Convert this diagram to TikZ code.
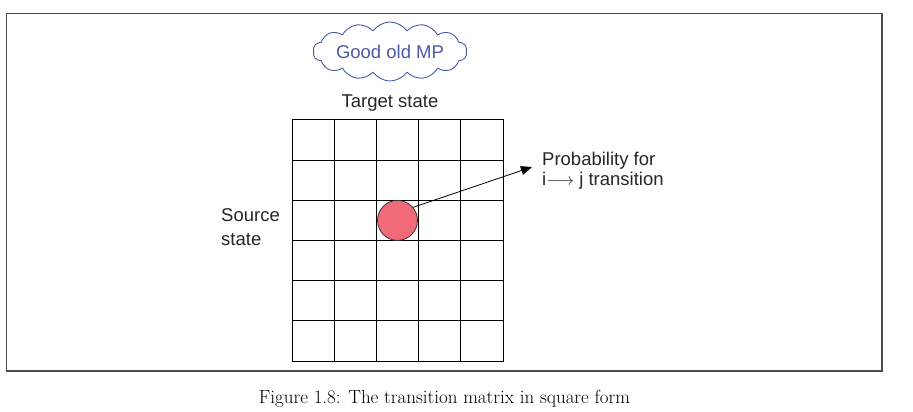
\documentclass[tikz,border=0pt]{standalone}
\usepackage{fontspec}
\newfontfamily\labelfont{Liberation Sans}
\usetikzlibrary{shapes.symbols,arrows.meta}
\definecolor{cloudblue}{HTML}{4A5AA8}
\definecolor{dotred}{HTML}{F06A7A}
\begin{document}
\begin{tikzpicture}[x=1pt,y=-1pt]
\tikzstyle{cell}=[draw,line width=1pt,minimum width=42.2pt,minimum height=40.2pt,inner sep=0pt]
\tikzstyle{lbl}=[font=\labelfont\fontsize{18.5}{19.5}\selectfont,text=black!85,inner sep=0pt]
\useasboundingbox (0,0) rectangle (913,412);
\draw[black!70,line width=1.3pt] (6.5,13.5) rectangle (882,371);
% the matrix
\foreach \r in {1,...,6}
  \foreach \c in {1,...,5}
    \node[cell] (c\r\c) at ({292+(\c-0.5)*42.2},{120+(\r-0.5)*40.17}) {};
\node[circle,draw=black!80,fill=dotred,minimum size=40pt,inner sep=0pt,line width=0.8pt] (dot) at (c33) {};
% labels
\node[cloud,cloud puffs=14,cloud puff arc=110,aspect=3.6,draw=cloudblue,line width=0.9pt,
  minimum width=130pt,minimum height=30pt,inner sep=0pt,
  font=\labelfont\fontsize{18.5}{19}\selectfont,text=cloudblue] (mp) at (390,51.5) {Good old MP};
\node[lbl,anchor=base] (target) at (390,107) {Target state};
\node[lbl,anchor=base west,align=left,font=\labelfont\fontsize{18.5}{24}\selectfont] (source) at (221,245) {Source\\state};
\node[lbl,anchor=base west,align=left] (prob) at (542,185) {Probability for\\i$\longrightarrow$ j transition};
\coordinate (tip) at (532,167);
\draw[-{Triangle[length=11pt,width=9pt]},line width=0.8pt] (dot.40) -- (tip);
\node[anchor=base,font=\fontsize{19}{22}\selectfont,inner sep=0pt] (caption) at (444.5,403) {Figure 1.8: The transition matrix in square form};
\end{tikzpicture}
\end{document}
